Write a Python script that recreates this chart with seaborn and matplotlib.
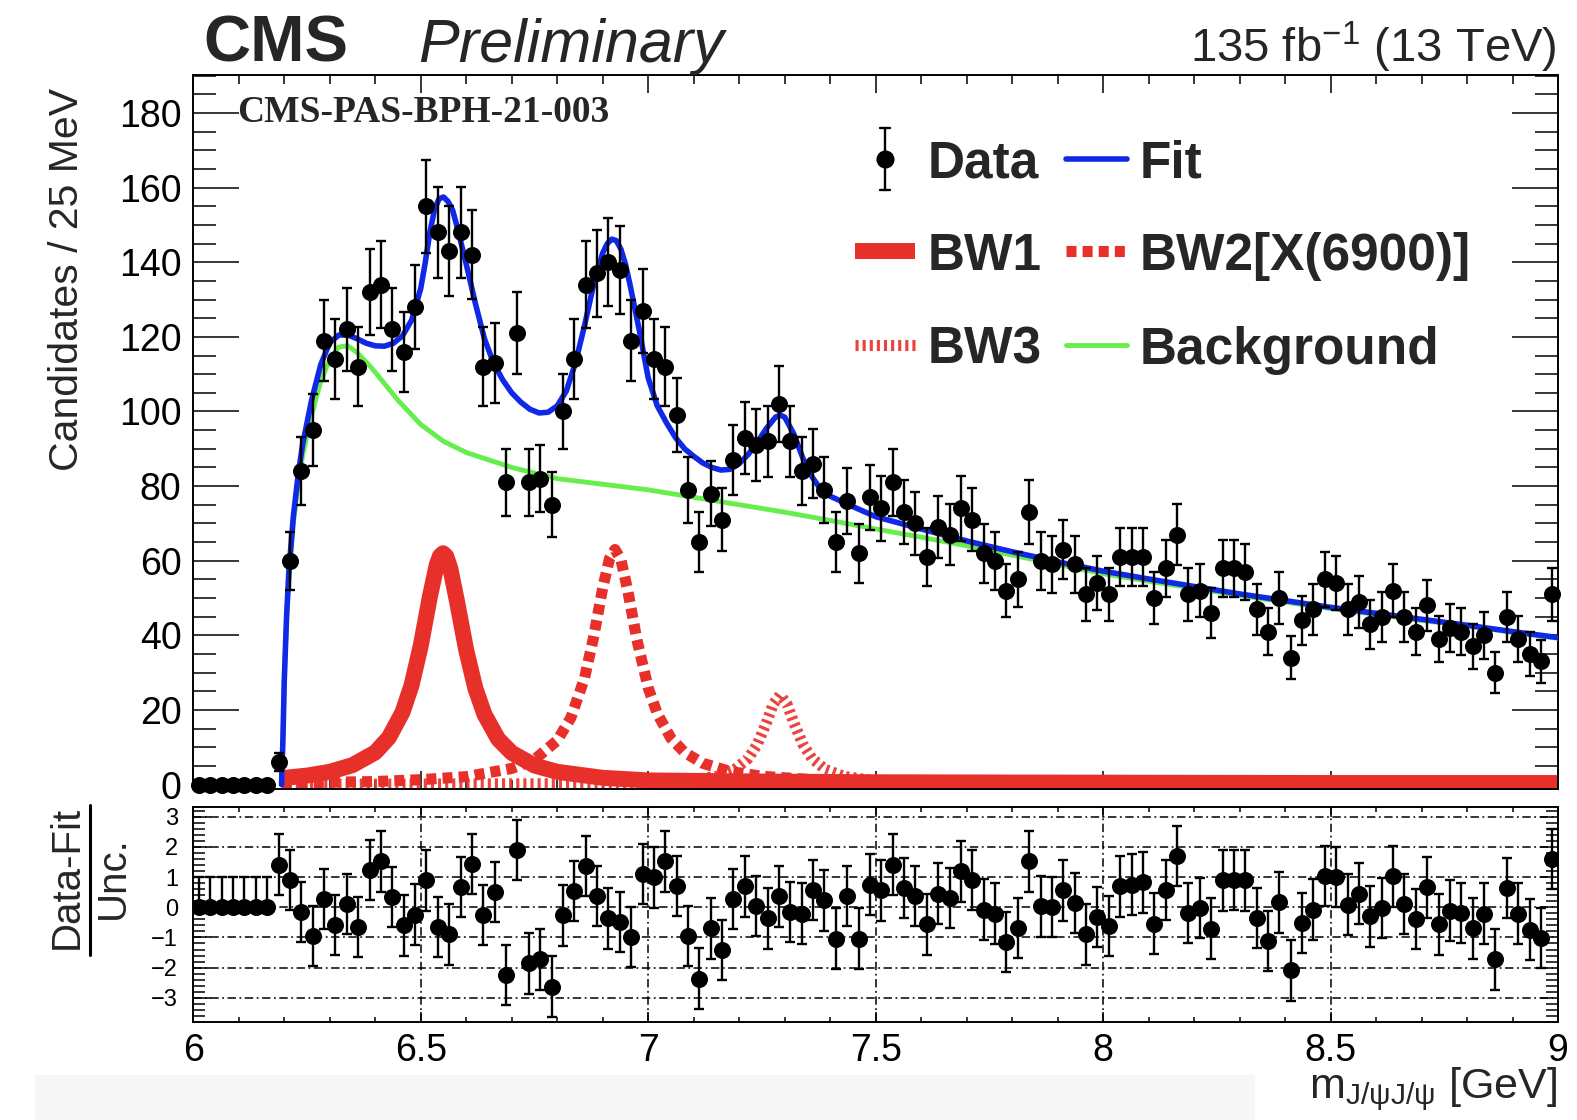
import numpy as np
import pandas as pd
import matplotlib
matplotlib.use("Agg")
import matplotlib.pyplot as plt
from matplotlib.lines import Line2D
from matplotlib.patches import Rectangle
from matplotlib.ticker import MultipleLocator
import seaborn as sns

# ---------------- binning: 25 MeV bins from 6 to 9 GeV ----------------
bin_lo = 6.0
bin_w = 0.025

# candidates per bin
counts = [0, 0, 0, 0, 0, 0, 0,
          6, 60, 84, 95, 119, 114, 122, 112, 132, 134,
          122, 116, 128, 155, 148, 143, 148, 142, 112, 113,
          81, 121, 81, 82, 75, 100, 114, 134, 137, 140,
          138, 119, 127, 114, 112, 99, 79, 65, 78, 71,
          87, 93, 91, 92, 102, 92, 84, 86, 79, 65,
          76, 62, 77, 74, 81, 73, 70, 61, 69, 67,
          74, 71, 62, 60, 52, 55, 73, 60, 59, 63,
          59, 51, 54, 51, 61, 61, 61, 50, 58, 67,
          51, 52, 46, 58, 58, 57, 47, 41, 50, 34,
          44, 47, 55, 54, 47, 49, 43, 45, 52, 45,
          41, 48, 39, 42, 41, 37, 40, 30, 45, 39,
          35, 33, 51]

# (data - fit) / uncertainty per bin
pulls = [0, 0, 0, 0, 0, 0, 0,
         1.41, 0.91, -0.16, -0.96, 0.27, -0.58, 0.11, -0.66, 1.24, 1.52,
         0.34, -0.60, -0.24, 0.89, -0.65, -0.90, 0.67, 1.44, -0.26, 0.51,
         -2.24, 1.90, -1.86, -1.73, -2.63, -0.27, 0.53, 1.37, 0.38, -0.37,
         -0.48, -0.99, 1.11, 0.99, 1.52, 0.71, -0.96, -2.36, -0.70, -1.42,
         0.27, 0.69, 0.05, -0.37, 0.36, -0.16, -0.21, 0.58, 0.23, -1.04,
         0.38, -1.04, 0.75, 0.56, 1.41, 0.64, 0.38, -0.57, 0.45, 0.31,
         1.19, 0.91, -0.08, -0.21, -1.15, -0.68, 1.52, 0.03, 0.01, 0.56,
         0.14, -0.90, -0.32, -0.63, 0.69, 0.75, 0.82, -0.54, 0.58, 1.70,
         -0.19, -0.02, -0.71, 0.89, 0.91, 0.89, -0.35, -1.12, 0.16, -2.09,
         -0.52, -0.08, 1.04, 1.00, 0.09, 0.45, -0.30, -0.02, 1.02, 0.11,
         -0.38, 0.66, -0.57, -0.11, -0.19, -0.70, -0.21, -1.73, 0.64, -0.21,
         -0.74, -1.01, 1.59]

# total fit curve
fit_x = [6.194, 6.197, 6.20, 6.205, 6.21, 6.22, 6.23, 6.24, 6.26, 6.28,
         6.30, 6.32, 6.34, 6.36, 6.38, 6.40, 6.42, 6.44, 6.46, 6.48,
         6.50, 6.51, 6.52, 6.53, 6.54, 6.55, 6.56, 6.57, 6.58, 6.60,
         6.62, 6.64, 6.66, 6.68, 6.70, 6.72, 6.74, 6.76, 6.78, 6.80,
         6.82, 6.84, 6.86, 6.88, 6.90, 6.91, 6.92, 6.93, 6.94, 6.95,
         6.96, 6.98, 7.00, 7.02, 7.04, 7.06, 7.08, 7.10, 7.12, 7.14,
         7.16, 7.18, 7.20, 7.22, 7.24, 7.26, 7.28, 7.29, 7.30, 7.32,
         7.34, 7.36, 7.38, 7.40, 7.45, 7.50, 7.60, 7.70, 7.80, 7.90,
         8.00, 8.10, 8.20, 8.30, 8.40, 8.50, 8.60, 8.70, 8.80, 8.90, 9.00]
fit_y = [0, 12, 28, 45, 57, 72, 82.5, 91, 103, 112.5,
         118.5, 120.5, 120.5, 119.5, 118.3, 117.6, 117.5, 118.3, 120.3, 124.5,
         133, 140, 148, 154, 157, 157.5, 156.3, 154, 149.5, 139.5,
         129, 119.5, 113, 108.5, 105, 102.5, 100.6, 99.6, 99.8, 101.5,
         105.5, 113, 123, 134, 142.5, 145, 146.2, 145.8, 143.5, 139.5,
         134, 122, 109, 101.5, 97, 93, 90, 88, 86.2, 85,
         84.3, 84.5, 86, 88.5, 91.8, 95.5, 98.5, 99, 98.5, 94,
         87.5, 82.5, 79, 77.3, 74.5, 71.8, 68.5, 65.3, 62.4, 59.7,
         57.2, 55.1, 53.1, 51.1, 49.3, 47.5, 45.9, 44.3, 42.7, 41.0, 39.4]

# background component
bkg_x = [6.194, 6.197, 6.20, 6.205, 6.21, 6.22, 6.23, 6.24, 6.26, 6.28,
         6.30, 6.32, 6.34, 6.36, 6.38, 6.40, 6.45, 6.50, 6.55, 6.60,
         6.65, 6.70, 6.80, 6.90, 7.00, 7.10, 7.20, 7.30, 7.40, 7.50,
         7.60, 7.70, 7.80, 7.90, 8.00, 8.10, 8.20, 8.30, 8.40, 8.50,
         8.60, 8.70, 8.80, 8.90, 9.00]
bkg_y = [0, 12, 28, 44, 55, 70, 80, 88, 99, 108,
         114, 117.3, 117.6, 115.8, 113.3, 110.5, 103, 96.5, 92, 89,
         87, 85, 82, 80.5, 79, 77, 75, 73, 70.8, 68.5,
         66.3, 64, 61.5, 59, 56.5, 54.5, 52.6, 50.7, 48.9, 47.2,
         45.6, 44, 42.5, 40.8, 39.2]

# Breit-Wigner components
bw1_x = [6.194, 6.25, 6.30, 6.35, 6.40, 6.43, 6.46, 6.48, 6.50, 6.52,
         6.535, 6.542, 6.549, 6.556, 6.565, 6.58, 6.60, 6.62, 6.64, 6.67,
         6.70, 6.75, 6.80, 6.90, 7.00, 7.25, 7.50, 8.00, 8.50, 9.00]
bw1_y = [1.7, 2.4, 3.4, 5.2, 8.6, 12.6, 19.4, 26.7, 37.2, 50.3,
         58.8, 61.2, 62, 61.2, 57.9, 48.9, 36, 25.8, 18.8, 12.2,
         8.5, 5.1, 3.4, 1.8, 1.1, 0.8, 0.6, 0.5, 0.4, 0.4]

bw2_x = [6.194, 6.40, 6.50, 6.60, 6.70, 6.75, 6.80, 6.83, 6.86, 6.88,
         6.90, 6.915, 6.927, 6.94, 6.955, 6.975, 7.00, 7.02, 7.05, 7.08,
         7.12, 7.18, 7.25, 7.40, 7.60, 8.00, 8.50, 9.00]
bw2_y = [0.4, 0.8, 1.3, 2.1, 4.3, 6.7, 11.8, 17.9, 28.5, 39.5,
         52.7, 60.6, 63, 60.3, 52, 38.9, 25.9, 19, 12.4, 8.6,
         5.7, 3.5, 2.2, 1.0, 0.5, 0.3, 0.2, 0.2]

bw3_x = [6.194, 6.80, 7.00, 7.10, 7.15, 7.19, 7.22, 7.24, 7.26, 7.275,
         7.29, 7.305, 7.32, 7.34, 7.36, 7.39, 7.43, 7.48, 7.60, 8.00,
         8.50, 9.00]
bw3_y = [0.05, 0.2, 0.6, 1.3, 2.2, 4.0, 7.0, 10.8, 16.6, 21.6,
         24, 21.6, 16.6, 10.8, 7.0, 4.0, 2.2, 1.3, 0.5, 0.1,
         0.05, 0.02]

main_yticks = [0, 20, 40, 60, 80, 100, 120, 140, 160, 180]
pull_yticks = [-3, -2, -1, 0, 1, 2, 3]
x_ticks = [6, 6.5, 7, 7.5, 8, 8.5, 9]
x_ticklabels = ["6", "6.5", "7", "7.5", "8", "8.5", "9"]

# ---------------- style ----------------
sns.set_style("ticks")
plt.rcParams.update({
    "font.family": ["Liberation Sans", "DejaVu Sans"],
    "mathtext.fontset": "custom",
    "mathtext.rm": "Liberation Sans",
    "mathtext.it": "Liberation Sans:italic",
    "mathtext.bf": "Liberation Sans:bold",
    "axes.linewidth": 1.4,
    "axes.edgecolor": "black",
    "xtick.color": "black",
    "ytick.color": "black",
})

RED = "#e8302a"
BLUE = "#1028e8"
GREEN = "#66ee4d"
MARKER_S = 150

W, H = 1577, 1120
fig = plt.figure(figsize=(W / 100, H / 100), dpi=100)
fig.patch.set_facecolor("white")


def fx(px):
    return px / W


def fy(py):
    return 1 - py / H


X0, X1 = 193.3, 1558.0
ax = fig.add_axes([fx(X0), fy(789), fx(X1) - fx(X0), fy(75) - fy(789)])
axr = fig.add_axes([fx(X0), fy(1021.7), fx(X1) - fx(X0), fy(806.7) - fy(1021.7)])

counts_arr = np.array(counts, dtype=float)
pulls_arr = np.array(pulls, dtype=float)
centers = bin_lo + bin_w * (np.arange(len(counts_arr)) + 0.5)
df = pd.DataFrame({"m": centers, "n": counts_arr, "pull": pulls_arr})

# ---------------- main panel ----------------
sns.lineplot(x=bw1_x, y=bw1_y, ax=ax, color=RED, lw=11.5, sort=False,
             estimator=None, solid_capstyle="butt", zorder=2)
sns.lineplot(x=bw2_x, y=bw2_y, ax=ax, color=RED, lw=8, sort=False,
             estimator=None, linestyle=(0, (0.9, 0.55)),
             dash_capstyle="butt", zorder=2)
sns.lineplot(x=bw3_x, y=bw3_y, ax=ax, color=RED, lw=8, alpha=0.9,
             sort=False, estimator=None, linestyle=(0, (0.28, 0.36)),
             dash_capstyle="butt", zorder=2)
sns.lineplot(x=bkg_x, y=bkg_y, ax=ax, color=GREEN, lw=3.5, sort=False,
             estimator=None, zorder=3)
sns.lineplot(x=fit_x, y=fit_y, ax=ax, color=BLUE, lw=4.0, sort=False,
             estimator=None, zorder=4)

ax.errorbar(df["m"], df["n"], yerr=np.sqrt(df["n"]), fmt="none",
            ecolor="black", elinewidth=1.7, capsize=3.8, capthick=1.7,
            zorder=5)
sns.scatterplot(data=df, x="m", y="n", ax=ax, color="black", s=MARKER_S,
                linewidth=0, zorder=6, clip_on=False)

ax.set_xlim(6, 9)
ax.set_ylim(-1.2, 190.2)
ax.set_xticks(x_ticks)
ax.xaxis.set_minor_locator(MultipleLocator(0.1))
ax.set_yticks(main_yticks)
ax.set_yticklabels([str(v) for v in main_yticks])
ax.yaxis.set_minor_locator(MultipleLocator(5))
ax.tick_params(axis="both", which="both", direction="in", top=True,
               right=True, width=1.1)
ax.tick_params(axis="x", which="major", length=13, labelbottom=False)
ax.tick_params(axis="x", which="minor", length=6.5)
ax.tick_params(axis="y", which="major", length=33, labelsize=27, pad=8.5)
ax.tick_params(axis="y", which="minor", length=16.5)
ax.set_xlabel("")
ax.set_ylabel("")

# ---------------- pull panel ----------------
lower = np.where(df["n"] > 0, 1.0, 0.0)
upper = np.ones(len(df))
axr.errorbar(df["m"], df["pull"], yerr=[lower, upper], fmt="none",
             ecolor="black", elinewidth=1.7, capsize=3.8, capthick=1.7,
             zorder=5)
sns.scatterplot(data=df, x="m", y="pull", ax=axr, color="black", s=MARKER_S,
                linewidth=0, zorder=6)
axr.set_axisbelow(True)
axr.grid(True, which="major", color="black", lw=1.1,
         linestyle=(0, (5.5, 2.3, 1.2, 2.3)))
axr.set_xlim(6, 9)
axr.set_ylim(-3.79, 3.33)
axr.set_xticks(x_ticks)
axr.set_xticklabels(x_ticklabels)
axr.xaxis.set_minor_locator(MultipleLocator(0.1))
axr.set_yticks(pull_yticks)
axr.set_yticklabels([str(v).replace("-", "\u2212") for v in pull_yticks])
axr.yaxis.set_minor_locator(MultipleLocator(0.2))
axr.tick_params(axis="both", which="both", direction="in", top=True,
                right=True, width=1.1)
axr.tick_params(axis="x", which="major", length=7, labelsize=27, pad=8)
axr.tick_params(axis="x", which="minor", length=3.6)
axr.tick_params(axis="y", which="major", length=13, labelsize=17, pad=11)
axr.tick_params(axis="y", which="minor", length=8.5)
axr.set_xlabel("")
axr.set_ylabel("")

# ---------------- header and labels ----------------
fig.text(fx(203), fy(62), "CMS", fontsize=47, fontweight="bold",
         ha="left", va="baseline")
fig.text(fx(418), fy(62), "Preliminary", fontsize=44, fontstyle="italic",
         ha="left", va="baseline")
fig.text(fx(1557), fy(62), r"135 fb$^{\mathregular{-1}}$ (13 TeV)",
         fontsize=34, ha="right", va="baseline")
fig.text(fx(237), fy(122), "CMS-PAS-BPH-21-003", fontsize=27,
         fontweight="bold", family=["Liberation Serif", "DejaVu Serif"],
         ha="left", va="baseline")

fig.text(fx(67), fy(279), "Candidates / 25 MeV", fontsize=29.5,
         rotation=90, ha="center", va="center")

fig.text(fx(66.7), fy(877.5), "Data-Fit", fontsize=29, rotation=90,
         ha="center", va="center")
fig.add_artist(Line2D([fx(90), fx(90)], [fy(805), fy(955)],
                      transform=fig.transFigure, color="black", lw=2.2))
fig.text(fx(113), fy(877.5), "Unc.", fontsize=29, rotation=90,
         ha="center", va="center")

fig.text(fx(1557), fy(1089), r"$\mathrm{m}_{\mathrm{J/\psi J/\psi}}$ [GeV]",
         fontsize=31, ha="right", va="center")

# light strip along the lower edge
fig.add_artist(Rectangle((fx(35), 0), fx(1255) - fx(35), fy(1075),
                         transform=fig.transFigure, color="#f6f6f6",
                         zorder=-1, lw=0))

# ---------------- legend ----------------
rows = [158.9, 251.3, 344.9]
col1_h, col1_t = (855, 915), 928
col2_h, col2_t = (1066, 1127), 1140


def handle(x0x1, y, **kw):
    fig.add_artist(Line2D([fx(x0x1[0]), fx(x0x1[1])], [fy(y), fy(y)],
                          transform=fig.transFigure, **kw))


def label(x, y, s):
    fig.text(fx(x), fy(y + 18.7), s, fontsize=37, fontweight="bold",
             ha="left", va="baseline")


# Data handle: marker with error bar and caps
fig.add_artist(Line2D([fx(885), fx(885)], [fy(128), fy(190)],
                      transform=fig.transFigure, color="black", lw=1.7))
for yy in (128, 190):
    fig.add_artist(Line2D([fx(880), fx(890)], [fy(yy), fy(yy)],
                          transform=fig.transFigure, color="black", lw=1.7))
fig.add_artist(Line2D([fx(885)], [fy(rows[0])], transform=fig.transFigure,
                      marker="o", markersize=12, color="black", lw=0))
label(col1_t, rows[0], "Data")

handle(col2_h, rows[0], color=BLUE, lw=4.0)
label(col2_t, rows[0], "Fit")

handle(col1_h, rows[1], color=RED, lw=11.5, solid_capstyle="butt")
label(col1_t, rows[1], "BW1")

handle(col2_h, rows[1], color=RED, lw=8, linestyle=(0, (0.9, 0.55)),
       dash_capstyle="butt")
label(col2_t, rows[1], "BW2[X(6900)]")

handle(col1_h, rows[2], color=RED, lw=8, alpha=0.9,
       linestyle=(0, (0.28, 0.36)), dash_capstyle="butt")
label(col1_t, rows[2], "BW3")

handle(col2_h, rows[2], color=GREEN, lw=3.5)
label(col2_t, rows[2], "Background")

fig.savefig("out.png", dpi=100, facecolor="white")
